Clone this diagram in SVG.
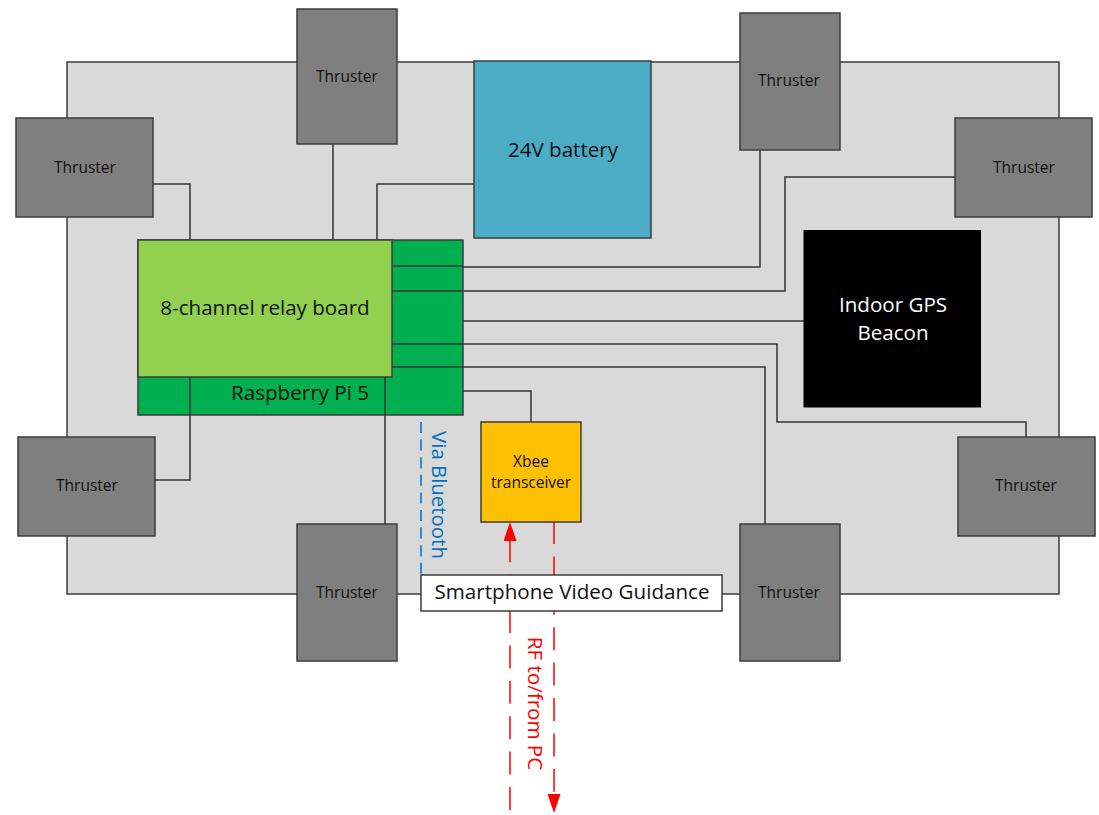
<svg xmlns="http://www.w3.org/2000/svg" width="1099" height="815" viewBox="0 0 1099 815">
<defs>
<style>
text{font-family:"Open Sans","Noto Sans","Liberation Sans",sans-serif;fill:#111;text-anchor:middle}
.b{stroke:#3c3c3c;stroke-width:1.5}
.th{fill:#7f7f7f}
.l{fill:none;stroke:#333;stroke-width:1.5}
.t{font-size:15.5px}
.big{font-size:20.6px}
.red{fill:none;stroke:#f00;stroke-width:1.5;stroke-dasharray:23 12.4}
</style>
<marker id="ah" markerUnits="userSpaceOnUse" markerWidth="20" markerHeight="14" refX="11" refY="6.5" orient="auto"><path d="M0 0L19 6.5L0 13Z" fill="#f00"/></marker>
</defs>
<g id="body"><rect x="67" y="62" width="992" height="532" fill="#d9d9d9" class="b"/></g>
<g id="connectors">
<path class="l" d="M153 184H190V240"/>
<path class="l" d="M333 144V240"/>
<path class="l" d="M474 184H377V240"/>
<path class="l" d="M463 267H760V150"/>
<path class="l" d="M463 291H785V177H955"/>
<path class="l" d="M463 321H804"/>
<path class="l" d="M463 344H777V422H1026V437"/>
<path class="l" d="M463 367H765V524"/>
<path class="l" d="M463 391H531V422"/>
<path class="l" d="M190 415V480H155"/>
<path class="l" d="M385 415V524"/>
<path d="M421 422V575" fill="none" stroke="#0070c0" stroke-width="1.5" stroke-dasharray="11 6.6"/>
<path class="red" d="M510 810V530" marker-end="url(#ah)"/>
<path class="red" d="M554 521V805" marker-end="url(#ah)"/>
</g>
<g id="raspberry-pi">
<rect x="138" y="240" width="325" height="175" fill="#00b050" class="b"/>
<path class="l" d="M392 266H463M392 291H463M392 344H463M392 367H463M190 377V415M385 377V415"/>
<text class="big" x="300" y="400">Raspberry Pi 5</text>
</g>
<g id="relay-board">
<rect x="138" y="240" width="254" height="137" fill="#92d050" class="b"/>
<text class="big" x="265" y="315">8-channel relay board</text>
</g>
<g id="battery"><rect x="474" y="61" width="177" height="177" fill="#4bacc6" class="b"/><text class="big" x="563" y="157">24V battery</text></g>
<g id="gps"><rect x="803.500" y="230" width="177.500" height="177.500" fill="#000"/><text class="big" style="fill:#fff" x="893" y="312">Indoor GPS</text><text class="big" style="fill:#fff" x="893" y="340">Beacon</text></g>
<g id="xbee"><rect x="481" y="422" width="100" height="100" fill="#ffc000" class="b"/><text class="t" x="531" y="467">Xbee</text><text class="t" x="531" y="488">transceiver</text></g>
<g id="smartphone"><rect x="421" y="575" width="301" height="36" fill="#fff" class="b"/><text class="big" x="572" y="599">Smartphone Video Guidance</text></g>
<g id="thruster-1"><rect x="16" y="118" width="137" height="99" class="th b"/><text class="t" x="85" y="173">Thruster</text></g>
<g id="thruster-2"><rect x="297" y="9" width="100" height="135" class="th b"/><text class="t" x="347" y="82">Thruster</text></g>
<g id="thruster-3"><rect x="740" y="13" width="100" height="137" class="th b"/><text class="t" x="789" y="86">Thruster</text></g>
<g id="thruster-4"><rect x="955" y="118" width="137" height="99" class="th b"/><text class="t" x="1024" y="173">Thruster</text></g>
<g id="thruster-5"><rect x="958" y="437" width="137" height="99" class="th b"/><text class="t" x="1026" y="491">Thruster</text></g>
<g id="thruster-6"><rect x="740" y="524" width="100" height="137" class="th b"/><text class="t" x="789" y="598">Thruster</text></g>
<g id="thruster-7"><rect x="297" y="524" width="100" height="137" class="th b"/><text class="t" x="347" y="598">Thruster</text></g>
<g id="thruster-8"><rect x="18" y="437" width="137" height="99" class="th b"/><text class="t" x="87" y="491">Thruster</text></g>
<text x="432" y="495" transform="rotate(90 432 495)" style="fill:#0070c0;font-size:20.4px">Via Bluetooth</text>
<text x="528" y="703.500" transform="rotate(90 528 703.500)" style="fill:#f00;font-size:20.6px">RF to/from PC</text>
</svg>
